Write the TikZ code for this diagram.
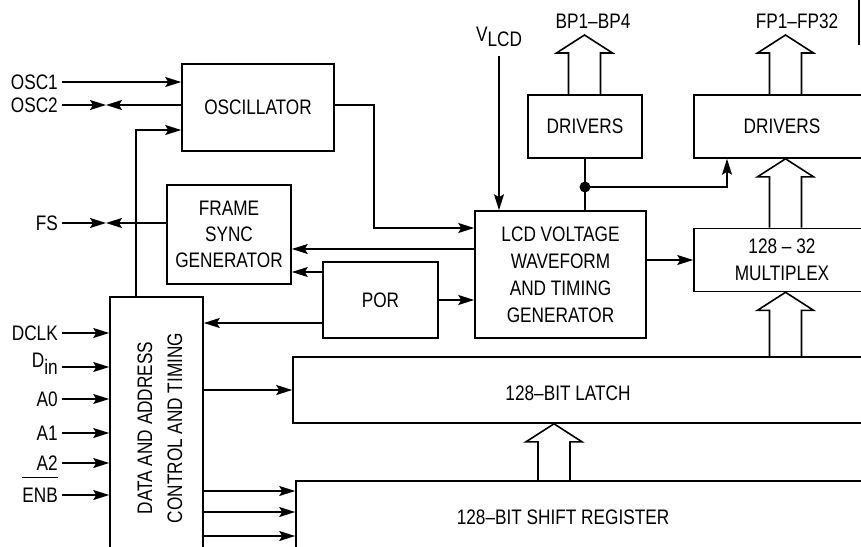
\documentclass[tikz,border=0pt]{standalone}
\usepackage{fontspec}
\setmainfont[FakeStretch=0.82]{Liberation Sans}
\usetikzlibrary{arrows.meta, calc}

% hollow bus arrow: x position, foot point, tip point
\newcommand{\busarrow}[3]{%
  \path (#1,0 |- #2) coordinate (bb) (#1,0 |- #3) coordinate (bt);
  \draw[bus] ($(bb)+(-16,0)$) -- ($(bt)+(-16,18)$) -- ($(bt)+(-28,18)$) -- (bt)
    -- ($(bt)+(28,18)$) -- ($(bt)+(16,18)$) -- ($(bb)+(16,0)$);}
% active-low signal name
\newcommand{\barsig}[1]{\setbox0\hbox{#1}\rlap{\raisebox{24pt}[0pt][0pt]{\rule{\wd0}{1.4pt}}}\box0}

\begin{document}
\begin{tikzpicture}[
    x=1pt, y=-1pt,
    font=\fontsize{21}{27}\selectfont,
    block/.style={rectangle, draw, line width=1.6pt, inner sep=0pt, align=center},
    sig/.style={line width=1.6pt, -{Stealth[length=16pt, width=10pt, inset=3pt]}},
    wire/.style={line width=1.6pt},
    bus/.style={line width=1.6pt, line join=miter},
    pin/.style={anchor=east, inner sep=4pt},
]
\clip (0,0) rectangle (861,546);

% blocks
\node[block, minimum width=152, minimum height=87] (osc) at (258,107.5) {OSCILLATOR};
\node[block, minimum width=124, minimum height=99, font=\fontsize{21}{26}\selectfont] (fsync) at (229,234.5) {FRAME\\SYNC\\GENERATOR};
\node[block, minimum width=171, minimum height=127] (lcd) at (560.5,274.5) {LCD VOLTAGE\\WAVEFORM\\AND TIMING\\GENERATOR};
\node[block, minimum width=115, minimum height=76] (por) at (380.5,300) {POR};
\node[block, minimum width=114, minimum height=63] (drvbp) at (585,126.5) {DRIVERS};
\node[block, minimum width=176, minimum height=63] (drvfp) at (782,126.5) {DRIVERS};
\node[block, minimum width=176, minimum height=63] (mux) at (782,260) {128 -- 32\\MULTIPLEX};

\node[block, minimum width=597, minimum height=66] (latch) at (591.5,390) {};
\node (latchtext) at (568,393) {128--BIT LATCH};
\node[block, minimum width=594, minimum height=99] (shreg) at (593,530.5) {};
\node (shregtext) at (563,517) {128--BIT SHIFT REGISTER};

\node[block, minimum width=93, minimum height=303] (ctl) at (156.5,448.5) {};
\node[rotate=90, align=center, font=\fontsize{21}{30}\selectfont] (ctltext) at (160,428) {DATA AND ADDRESS\\CONTROL AND TIMING};

% pins and outputs
\node[pin] (osc1) at (62,82) {OSC1};
\node[pin] (osc2) at (62,105) {OSC2};
\node[pin] (fs) at (62,223) {FS};
\node[inner ysep=9pt] (vlcd) at (499,37) {V\raisebox{-5pt}{LCD}};
\node (bplabel) at (593,21) {BP1--BP4};
\node (fplabel) at (797,21) {FP1--FP32};
\coordinate (bptip) at (584.5,35);
\coordinate (fptip) at (785.5,35);

% oscillator connections
\draw[sig] (osc1.east) -- (osc.west |- osc1.east);
\coordinate (osc2m) at (106,105);
\draw[sig] (osc2.east) -- (osc2m);
\draw[sig] (osc.west |- osc2m) -- (osc2m);
\coordinate (fb) at (136,130);
\draw[sig] (ctl.north -| fb) -- (fb) -- (osc.west |- fb);
\coordinate (oscturn) at (374,228);
\draw[sig] (osc.east |- osc2m) -| (oscturn) -- (lcd.west |- oscturn);

% frame sync
\coordinate (fsm) at (106,223);
\draw[sig] (fs.east) -- (fsm);
\draw[sig] (fsync.west |- fsm) -- (fsm);
\draw[sig] (lcd.west |- 0,249) -- (fsync.east |- 0,249);
\draw[sig] (por.west |- 0,272) -- (fsync.east |- 0,272);

% POR
\draw[sig] (por.east) -- (lcd.west |- por.east);
\draw[sig] (por.west |- 0,323) -- (ctl.east |- 0,323);

% LCD voltage and drivers
\draw[sig] (vlcd.south) -- (vlcd.south |- lcd.north);
\draw[sig] (lcd.east |- mux.west) -- (mux.west);
\draw[wire] (drvbp.south) -- (drvbp.south |- lcd.north);
\coordinate (split) at (drvbp.south |- 0,187);
\fill (split) circle (5.5);
\draw[sig] (split) -| ([xshift=-55pt]drvfp.south);

% control inputs
\foreach \name/\y/\txt in {dclk/333/DCLK, din/367/{\raisebox{7pt}[0pt][0pt]{D}in}, a0/399/A0, a1/433/A1, a2/463/A2, enb/495/{\barsig{ENB}}} {
  \node[pin] (\name) at (62,\y) {\txt};
  \draw[sig] (\name.east) -- (ctl.west |- \name.east);
}

% control outputs
\draw[sig] (ctl.east |- latch.west) -- (latch.west);
\foreach \y in {491,512,536}
  \draw[sig] (ctl.east |- 0,\y) -- (shreg.west |- 0,\y);

% data buses
\busarrow{554}{shreg.north}{latch.south}
\busarrow{785.5}{latch.north}{mux.south}
\busarrow{785.5}{mux.north}{drvfp.south}
\busarrow{785.5}{drvfp.north}{fptip}
\busarrow{584.5}{drvbp.north}{bptip}

\draw[wire] (859,0) -- (859,45);
\end{tikzpicture}
\end{document}
